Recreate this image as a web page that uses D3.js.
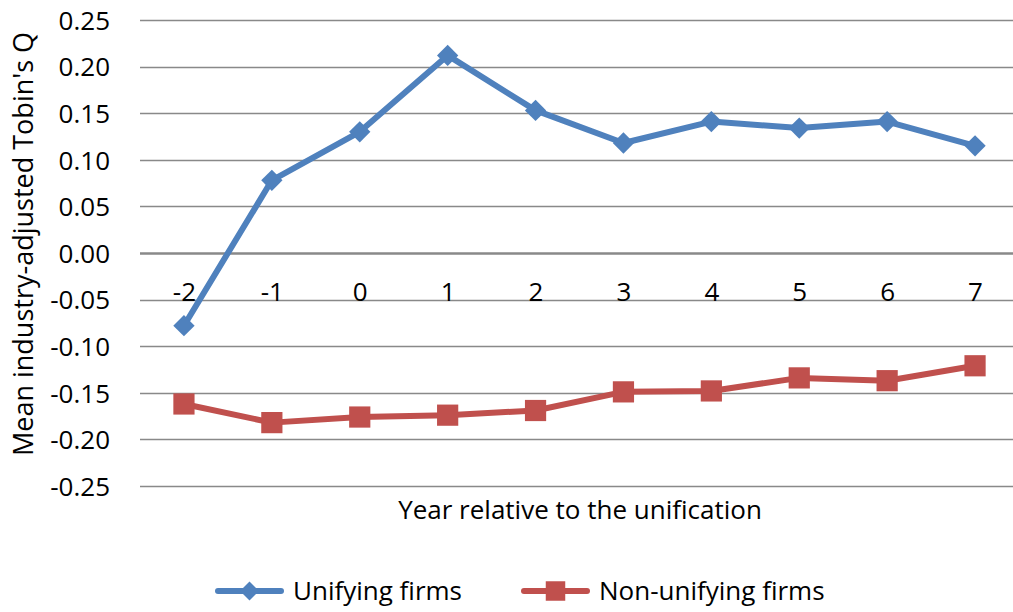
<!DOCTYPE html>
<html>
<head>
<meta charset="utf-8">
<script src="https://cdn.jsdelivr.net/npm/d3@7"></script>
<style>
  body { margin: 0; background: #fff; }
  text { font-family: "Open Sans", "Liberation Sans", sans-serif; fill: #000; }
</style>
</head>
<body>
<div id="chart"></div>
<script>
var years = ["-2", "-1", "0", "1", "2", "3", "4", "5", "6", "7"];
var unifying = [-0.078, 0.078, 0.130, 0.212, 0.153, 0.118, 0.141, 0.134, 0.141, 0.115];
var nonUnifying = [-0.162, -0.182, -0.176, -0.174, -0.169, -0.149, -0.148, -0.134, -0.137, -0.121];
var yTicks = [-0.25, -0.20, -0.15, -0.10, -0.05, 0.00, 0.05, 0.10, 0.15, 0.20, 0.25];
var seriesNames = ["Unifying firms", "Non-unifying firms"];

var W = 1013, H = 612;
var plotLeft = 140, plotRight = 1019, plotTop = 20, plotBottom = 486;
var fontSize = 26;

var svg = d3.select("#chart")
  .append("svg")
    .attr("width", W)
    .attr("height", H);

var x = d3.scalePoint()
  .domain(years)
  .range([plotLeft, plotRight])
  .padding(0.5);

var y = d3.scaleLinear()
  .domain([-0.25, 0.25])
  .range([plotBottom, plotTop]);

// gridlines
svg.append("g")
  .selectAll("line")
  .data(yTicks)
  .enter()
  .append("line")
    .attr("x1", plotLeft)
    .attr("x2", W)
    .attr("y1", function(d) { return Math.round(y(d)) + 0.5; })
    .attr("y2", function(d) { return Math.round(y(d)) + 0.5; })
    .attr("stroke", "#898989")
    .attr("stroke-width", function(d) { return d === 0 ? 2.4 : 1.7; });

// y axis labels
var yAxis = svg.append("g")
  .attr("transform", "translate(110,0)")
  .call(d3.axisLeft(y).tickValues(yTicks).tickSize(0).tickPadding(0));
yAxis.select(".domain").remove();
yAxis.selectAll("text")
  .attr("font-size", fontSize)
  .attr("font-family", "\"Open Sans\", sans-serif")
  .attr("fill", "#000")
  .attr("dy", "0.36em")
  .text(function(d) { return d3.format(".2f")(d).replace("\u2212", "-"); });

// x axis labels on the zero line
var xAxis = svg.append("g")
  .attr("transform", "translate(0," + y(0) + ")")
  .call(d3.axisBottom(x).tickSize(0));
xAxis.select(".domain").remove();
xAxis.selectAll("text")
  .attr("font-size", fontSize)
  .attr("font-family", "\"Open Sans\", sans-serif")
  .attr("fill", "#000")
  .attr("y", 48)
  .attr("dy", null);

// axis titles
svg.append("text")
  .attr("x", 580)
  .attr("y", 519)
  .attr("text-anchor", "middle")
  .attr("font-size", fontSize)
  .text("Year relative to the unification");

svg.append("text")
  .attr("transform", "translate(33,244) rotate(-90)")
  .attr("text-anchor", "middle")
  .attr("font-size", 27)
  .text("Mean industry-adjusted Tobin's Q");

var line = d3.line()
  .x(function(d, i) { return x(years[i]); })
  .y(function(d) { return y(d); });

var colors = ["#4F81BD", "#C0504D"];
var allSeries = [unifying, nonUnifying];

allSeries.forEach(function(vals, s) {
  svg.append("path")
    .datum(vals)
    .attr("fill", "none")
    .attr("stroke", colors[s])
    .attr("stroke-width", 6)
    .attr("stroke-linejoin", "round")
    .attr("d", line);
});

var diamond = d3.symbol().type(d3.symbolDiamond2).size(290);
var square = d3.symbol().type(d3.symbolSquare).size(450);

svg.append("g")
  .selectAll("path")
  .data(unifying)
  .enter()
  .append("path")
    .attr("d", diamond)
    .attr("transform", function(d, i) { return "translate(" + x(years[i]) + "," + y(d) + ")"; })
    .attr("fill", colors[0]);

svg.append("g")
  .selectAll("path")
  .data(nonUnifying)
  .enter()
  .append("path")
    .attr("d", square)
    .attr("transform", function(d, i) { return "translate(" + x(years[i]) + "," + y(d) + ")"; })
    .attr("fill", colors[1]);

// legend
var legendX = [218, 524];
var legend = svg.append("g");
seriesNames.forEach(function(name, s) {
  var g = legend.append("g").attr("transform", "translate(" + legendX[s] + ",591)");
  g.append("line")
    .attr("x1", 0).attr("x2", 63)
    .attr("stroke", colors[s])
    .attr("stroke-width", 6)
    .attr("stroke-linecap", "round");
  g.append("path")
    .attr("d", s === 0 ? d3.symbol().type(d3.symbolDiamond2).size(230) : d3.symbol().type(d3.symbolSquare).size(380))
    .attr("transform", "translate(31.5,0)")
    .attr("fill", colors[s]);
  g.append("text")
    .attr("x", 75)
    .attr("dy", "0.36em")
    .attr("font-size", fontSize)
    .text(name);
});
</script>
</body>
</html>
